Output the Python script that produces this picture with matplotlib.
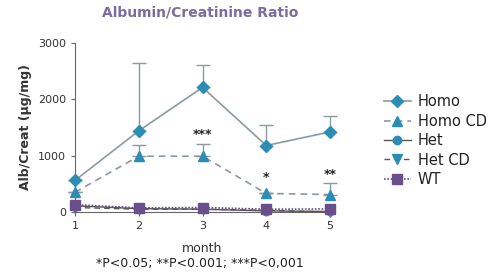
import matplotlib
matplotlib.use("Agg")
import matplotlib.pyplot as plt

months = [1, 2, 3, 4, 5]
homo = [560, 1440, 2210, 1180, 1420]
homo_err = [0, 1210, 390, 360, 290]
homo_cd = [350, 990, 990, 330, 310]
homo_cd_err = [0, 200, 210, 0, 200]
het = [110, 60, 50, 20, 10]
het_cd = [80, 50, 50, 30, 0]
wt = [130, 75, 80, 50, 55]
stars = {3: "***", 4: "*", 5: "**"}
star_y = {3: 1380, 4: 620, 5: 670}

teal = "#2b8db3"
grey = "#8c9aa0"
purple = "#6a4f8c"

fig = plt.figure(figsize=(5, 2.75), dpi=100)
ax = fig.add_axes([0.15, 0.229, 0.51, 0.615])

h1 = ax.errorbar(months, homo, yerr=[[0]*5, homo_err], color=grey, lw=1.2, marker="D",
            ms=6, mfc=teal, mec=teal, capsize=5, ecolor=grey, elinewidth=1, label="Homo", clip_on=False, zorder=3)
h2 = ax.errorbar(months, homo_cd, yerr=[[0]*5, homo_cd_err], color=grey, lw=1.2, ls=(0, (4, 3)), marker="^",
            ms=7.5, mfc=teal, mec=teal, capsize=5, ecolor=grey, elinewidth=1, label="Homo CD", clip_on=False, zorder=3)
h3, = ax.plot(months, het, color="#555555", lw=1, marker="o", ms=6, mfc=teal, mec=teal, label="Het", clip_on=False, zorder=2)
h4, = ax.plot(months, het_cd, color="#555555", lw=1, ls=(0, (4, 3)), marker="v", ms=7, mfc=teal, mec=teal, label="Het CD", clip_on=False, zorder=2)
h5, = ax.plot(months, wt, color=purple, lw=1.2, ls=(0, (1, 1)), marker="s", ms=7, mfc=purple, mec=purple, label="WT", clip_on=False, zorder=4)

for m, s in stars.items():
    ax.text(m, star_y[m], s, ha="center", va="center", fontsize=9, fontweight="bold", color="#222222")

ax.set_xlim(1, 5)
ax.set_ylim(0, 3000)
ax.set_xticks(months)
ax.set_yticks([0, 1000, 2000, 3000])
ax.tick_params(labelsize=8, length=3, color="#666666", labelcolor="#333333")
for sp in ["top", "right"]:
    ax.spines[sp].set_visible(False)
for sp in ["left", "bottom"]:
    ax.spines[sp].set_color("#666666")
ax.set_ylabel("Alb/Creat (µg/mg)", fontsize=9, fontweight="bold", color="#333333")
ax.set_xlabel("month", fontsize=9, color="#333333", labelpad=8)
fig.text(0.4, 0.028, "*P<0.05; **P<0.001; ***P<0,001", ha="center", fontsize=9, color="#222222")
fig.text(0.4, 0.94, "Albumin/Creatinine Ratio", ha="center", fontsize=10, fontweight="bold", color="#7b6b9e")

leg = ax.legend([h1[0], h2[0], h3, h4, h5], ["Homo", "Homo CD", "Het", "Het CD", "WT"],
                loc="upper left", bbox_to_anchor=(1.19, 0.73), frameon=False, fontsize=10.5,
                handlelength=1.8, handletextpad=0.5, labelspacing=0.3, borderaxespad=0)
for t in leg.get_texts():
    t.set_color("#222222")
fig.savefig("out.png", dpi=100)
